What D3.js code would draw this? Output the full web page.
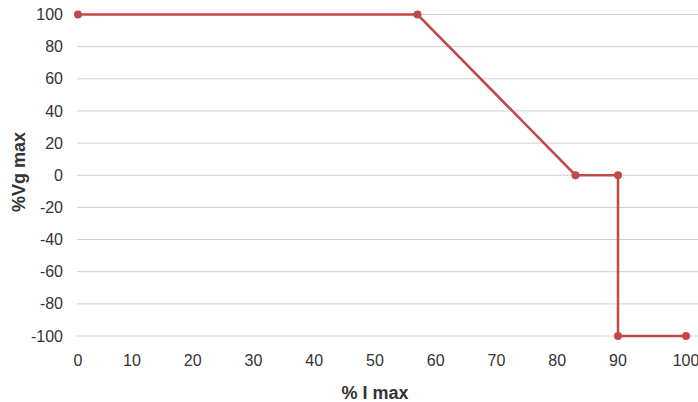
<!DOCTYPE html>
<html><head><meta charset="utf-8">
<script src="https://cdn.jsdelivr.net/npm/d3@7"></script>
<style>body{margin:0;background:#fff;}svg{display:block;}</style>
</head><body>
<svg id="c" width="698" height="402"></svg>
<script>
const xValues = [0, 57, 83, 90, 90, 100];
const yValues = [100, 100, 0, 0, -100, -100];
const xTicks = [0,10,20,30,40,50,60,70,80,90,100];
const yTicks = [100,80,60,40,20,0,-20,-40,-60,-80,-100];
const xTitle = "% I max";
const yTitle = "%Vg max";

const svg = d3.select("#c");
const font = "'Liberation Sans', Arial, Helvetica, sans-serif";
const x = d3.scaleLinear().domain([0,10,90,100]).range([78,132,618,686]);
const y = d3.scaleLinear().domain([-100,100]).range([336,14.5]);

// gridlines
svg.append("g").selectAll("line").data(yTicks).join("line")
  .attr("x1",77).attr("x2",698)
  .attr("y1",d=>y(d)).attr("y2",d=>y(d))
  .attr("stroke","#cfcfcf").attr("stroke-width",1);

// y labels
svg.append("g").selectAll("text").data(yTicks).join("text")
  .attr("x",63).attr("y",d=>y(d)).attr("dy","0.35em")
  .attr("text-anchor","end").attr("font-family",font).attr("font-size",16)
  .attr("fill","#333").text(d=>d);

// x labels
svg.append("g").selectAll("text").data(xTicks).join("text")
  .attr("x",d=>x(d)).attr("y",360).attr("dy","0.35em")
  .attr("text-anchor","middle").attr("font-family",font).attr("font-size",16)
  .attr("fill","#333").text(d=>d);

// titles
svg.append("text").attr("x",375).attr("y",393).attr("dy","0.35em")
  .attr("text-anchor","middle").attr("font-family",font).attr("font-size",18)
  .attr("font-weight","bold").attr("fill","#333").text(xTitle);
svg.append("text").attr("transform","translate(19,172) rotate(-90)").attr("dy","0.35em")
  .attr("text-anchor","middle").attr("font-family",font).attr("font-size",18)
  .attr("font-weight","bold").attr("fill","#333").text(yTitle);

const pts = xValues.map((v,i)=>[v,yValues[i]]);
const color = "#c24848";
svg.append("path").datum(pts)
  .attr("d", d3.line().x(d=>x(d[0])).y(d=>y(d[1])))
  .attr("fill","none").attr("stroke",color).attr("stroke-width",2.5);
svg.append("g").selectAll("circle").data(pts).join("circle")
  .attr("cx",d=>x(d[0])).attr("cy",d=>y(d[1])).attr("r",4).attr("fill",color);
</script>
</body></html>
